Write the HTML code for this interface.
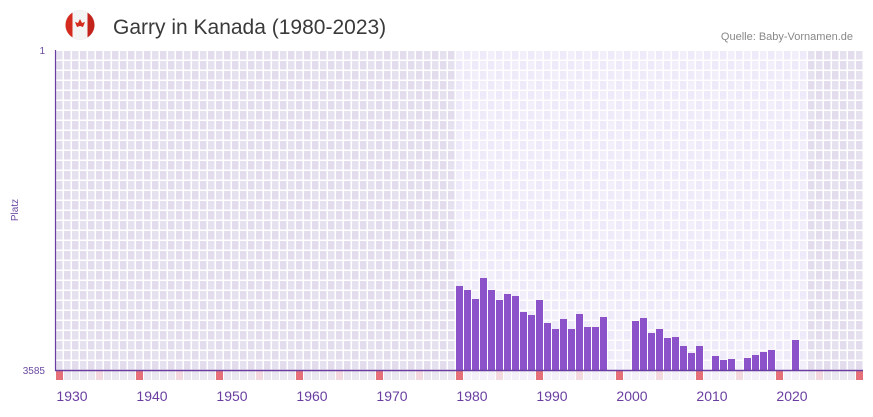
<!DOCTYPE html>
<html><head><meta charset="utf-8"><style>
body{margin:0;background:#fff;width:873px;height:412px;overflow:hidden;font-family:"Liberation Sans",sans-serif}
</style></head><body>
<svg id="s" width="873" height="412" xmlns="http://www.w3.org/2000/svg">
<circle cx="80" cy="25" r="15" fill="#eee"/>
<clipPath id="c"><circle cx="80" cy="25" r="14.5"/></clipPath>
<g clip-path="url(#c)"><rect x="65" y="10" width="30" height="30" fill="#f4f4f4"/><rect x="65" y="10" width="7.5" height="30" fill="#d52b1e"/><rect x="87.5" y="10" width="7.5" height="30" fill="#c4231b"/><polygon points="80,19 82,23 85,22 83,27 80,26 77,27 75,22 78,23" fill="#d52b1e"/></g>
<text x="113" y="34" font-size="21" fill="#3a3a3a">Garry in Kanada (1980-2023)</text>
<text x="853" y="40" font-size="11" fill="#888" text-anchor="end">Quelle: Baby-Vornamen.de</text>
<g id="g"></g>
<line x1="55.5" y1="50" x2="55.5" y2="371" stroke="#6a3ea1" stroke-width="1.2"/>
<line x1="55" y1="370.5" x2="863" y2="370.5" stroke="#6a3ea1" stroke-width="1.5"/>
<text x="45" y="54" font-size="10" fill="#6a4aa0" text-anchor="end">1</text>
<text x="45" y="374" font-size="10" fill="#6a4aa0" text-anchor="end">3585</text>
<text x="18" y="210" font-size="10" fill="#6a4aa0" text-anchor="middle" transform="rotate(-90 18 210)">Platz</text>
</svg>
<script>
var g=document.getElementById('g'),h='';
for(var i=0;i<101;i++){var x=55+i*8;var light=(i>=50&&i<=93);
for(var r=0;r<32;r++){var y=50+r*10;var c=light?((i+r)%2?'#efeaf9':'#f2eefa'):((i+r)%2?'#e2dcec':'#e6e1ee');
h+='<rect x="'+(x+1)+'" y="'+(y+1)+'" width="6.5" height="8.5" fill="'+c+'"/>';}
var bc=light?'#f3f0fa':'#ebe7f1';var yr=1928+i;
if(yr%10==8)bc='#e5707a';else if(yr%10==3)bc='#f3d8e0';
h+='<rect x="'+(x+1)+'" y="371" width="7" height="9" fill="'+bc+'"/>';}
var b={50:286,51:290,52:299,53:278,54:290,55:300,56:294,57:296,58:312,59:315,60:300,61:323,62:329,63:319,64:329,65:314,66:327,67:327,68:317,72:321,73:318,74:333,75:329,76:338,77:337,78:346,79:353,80:346,82:356,83:360,84:359,86:358,87:355,88:352,89:350,92:340};
for(var k in b){var x=55+k*8+1;h+='<rect x="'+x+'" y="'+b[k]+'" width="7" height="'+(370-b[k])+'" fill="#8b52c9"/>';}
for(var y=1930;y<=2020;y+=10){var x=55+(y-1928)*8+1;h+='<text x="'+x+'" y="401" font-size="14" fill="#6a3ea1" text-anchor="middle">'+y+'</text>';}
g.innerHTML=h;
</script>
</body></html>
